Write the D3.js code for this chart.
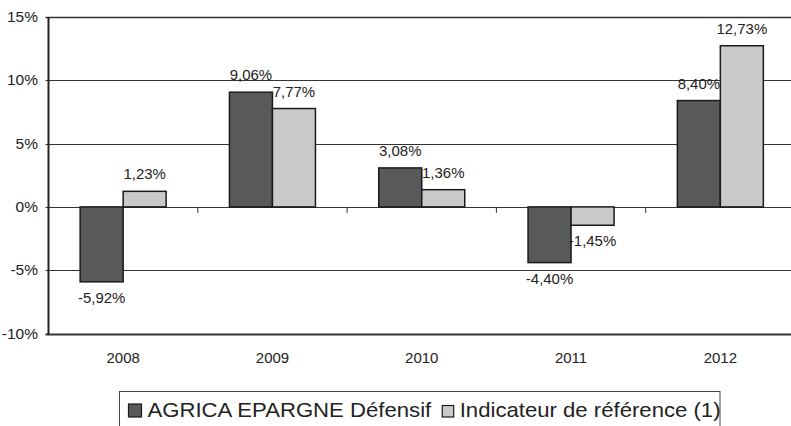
<!DOCTYPE html>
<html><head><meta charset="utf-8">
<script src="https://cdn.jsdelivr.net/npm/d3@7"></script>
<style>
html,body{margin:0;padding:0;background:#fff;}
svg{display:block;}
text{font-family:"Liberation Sans",Arial,sans-serif;fill:#222;}
</style></head>
<body>
<svg id="c" width="791" height="426"></svg>
<script>
const years = ["2008", "2009", "2010", "2011", "2012"];
const fund = [-5.92, 9.06, 3.08, -4.40, 8.40];
const bench = [1.23, 7.77, 1.36, -1.45, 12.73];
const seriesNames = ["AGRICA EPARGNE Défensif", "Indicateur de référence (1)"];
const yTicks = [-10, -5, 0, 5, 10, 15];

const colors = ["#58595b", "#c8c9ca"];
const SX = 1.07; // horizontal stretch of text in reference
const svg = d3.select("#c");

const left = 48.5, step = 149.3;
const x = d3.scaleBand().domain(years).range([left, left + step * years.length])
  .paddingInner(0.424).paddingOuter(0.212);
const x1 = d3.scaleBand().domain([0, 1]).range([0, x.bandwidth()]);
const y = d3.scaleLinear().domain([-10, 15]).range([333.5, 17]);

const fmt = v => (v < 0 ? "-" : "") + d3.format(".2f")(Math.abs(v)).replace(".", ",") + "%";

function txt(g, tx, ty, s, size, anchor, sx) {
  return g.append("text")
    .attr("transform", `translate(${tx},${ty}) scale(${sx || SX},1)`)
    .attr("text-anchor", anchor || "middle")
    .style("font-size", size + "px")
    .text(s);
}

// gridlines
const grid = svg.append("g");
yTicks.forEach(t => {
  grid.append("line")
    .attr("x1", left - 3).attr("x2", 791)
    .attr("y1", Math.round(y(t)) + 0.5).attr("y2", Math.round(y(t)) + 0.5)
    .attr("stroke", "#333")
    .attr("stroke-width", t === -10 ? 2 : (t === 15 ? 1.5 : 1));
});

// y tick labels
yTicks.forEach(t => {
  txt(svg, 38, y(t) + 5, t + "%", 14.5, "end");
});

// bars
const data = years.map((yr, i) => ({ yr, vals: [fund[i], bench[i]] }));
const groups = svg.append("g").selectAll("g").data(data).join("g")
  .attr("transform", d => `translate(${x(d.yr)},0)`);
groups.selectAll("rect").data(d => d.vals.map((v, k) => ({ v, k }))).join("rect")
  .attr("x", d => x1(d.k))
  .attr("width", x1.bandwidth())
  .attr("y", d => y(Math.max(0, d.v)))
  .attr("height", d => Math.abs(y(d.v) - y(0)))
  .attr("fill", d => colors[d.k])
  .attr("stroke", "#1a1a1a")
  .attr("stroke-width", 1.5);

// category ticks on zero line
years.forEach((yr, i) => {
  const bx = left + step * i;
  if (i === 0) return;
  svg.append("line").attr("x1", bx).attr("x2", bx)
    .attr("y1", y(0)).attr("y2", y(0) + 6)
    .attr("stroke", "#333").attr("stroke-width", 1);
});

// axis left line
svg.append("line").attr("x1", left).attr("x2", left)
  .attr("y1", y(15)).attr("y2", y(-10) + 1)
  .attr("stroke", "#222").attr("stroke-width", 2);

// value labels
data.forEach(d => {
  d.vals.forEach((v, k) => {
    const cx = x(d.yr) + x1(k) + x1.bandwidth() / 2;
    const ty = v >= 0 ? y(v) - 12 : y(v) + 21;
    txt(svg, cx, ty, fmt(v), 14, "middle");
  });
});

// year labels
years.forEach(yr => {
  txt(svg, x(yr) + x.bandwidth() / 2, 363, yr, 14, "middle");
});

// legend
const lg = svg.append("g");
lg.append("rect").attr("x", 119.5).attr("y", 391.5).attr("width", 600.5).attr("height", 60)
  .attr("fill", "none").attr("stroke", "#444").attr("stroke-width", 1);
let lx = 128.5;
seriesNames.forEach((name, k) => {
  const sz = k === 0 ? 13 : 11.5;
  lg.append("rect").attr("x", lx).attr("y", 417 - sz).attr("width", sz).attr("height", sz)
    .attr("fill", colors[k]).attr("stroke", "#1a1a1a").attr("stroke-width", 1.2);
  const tx = lx + sz + 6;
  const t = txt(lg, tx, 416.7, name, 20.5, "start", 1.08);
  const w = t.node().getComputedTextLength() * 1.08;
  lx = tx + w + 11;
});
</script>
</body></html>
